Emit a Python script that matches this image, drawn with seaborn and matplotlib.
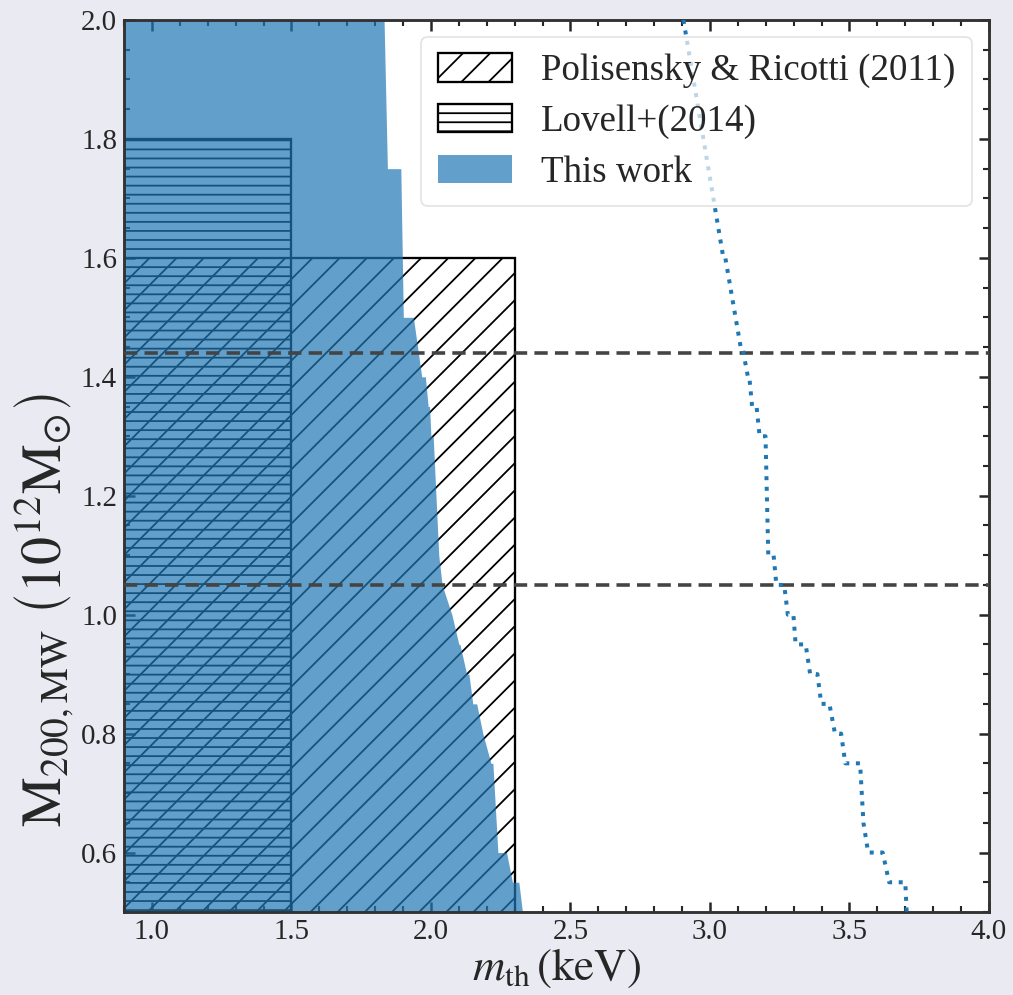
import matplotlib
matplotlib.use("Agg")
import matplotlib.pyplot as plt
from matplotlib.patches import Rectangle
from matplotlib.ticker import AutoMinorLocator, MultipleLocator
import seaborn as sns

# ---------------- data ----------------
# Polisensky & Ricotti (2011) excluded box
polisensky_m_max = 2.3
polisensky_M_max = 1.6
# Lovell+(2014) excluded box
lovell_m_max = 1.5
lovell_M_max = 1.8

# "This work" exclusion boundary (M200 in 1e12 Msun, m_th in keV)
edge_M = [2.00, 1.75, 1.75, 1.50, 1.50, 1.40, 1.40, 1.35, 1.35, 1.30, 1.30,
          1.10, 1.05, 1.00, 0.95, 0.95, 0.90, 0.90, 0.85, 0.85, 0.80, 0.75,
          0.75, 0.60, 0.60, 0.55, 0.55, 0.50]
edge_m = [1.832, 1.844, 1.892, 1.901, 1.937, 1.967, 1.980, 1.990, 1.995, 2.000, 2.008,
          2.028, 2.040, 2.075, 2.100, 2.104, 2.128, 2.136, 2.150, 2.164, 2.186, 2.215,
          2.222, 2.240, 2.271, 2.292, 2.315, 2.328]

# dotted curve
dot_M = [2.00, 1.60, 1.60, 1.45, 1.45, 1.40, 1.40, 1.35, 1.35, 1.30, 1.30, 1.10,
         1.10, 1.05, 1.05, 1.00, 1.00, 0.95, 0.95, 0.90, 0.90, 0.85, 0.85, 0.80,
         0.80, 0.75, 0.75, 0.65, 0.60, 0.60, 0.55, 0.55, 0.50]
dot_m = [2.905, 3.048, 3.055, 3.110, 3.116, 3.136, 3.141, 3.151, 3.167, 3.178, 3.199, 3.209,
         3.228, 3.238, 3.266, 3.279, 3.299, 3.307, 3.343, 3.359, 3.385, 3.399, 3.428, 3.448,
         3.470, 3.485, 3.538, 3.550, 3.567, 3.619, 3.642, 3.700, 3.705]

# horizontal reference masses
ref_M = [1.44, 1.05]

x_limits = (0.9, 4.0)
y_limits = (0.5, 2.0)

labels = ["Polisensky & Ricotti (2011)", "Lovell+(2014)", "This work"]

# ---------------- style ----------------
DPI = 163
def pt(px):
    """pixel size -> points at the chosen dpi"""
    return px * 72.0 / DPI

sns.set_theme(style="ticks")
plt.rcParams["font.family"] = ["Liberation Serif", "DejaVu Serif"]
plt.rcParams["mathtext.fontset"] = "stix"
plt.rcParams["hatch.linewidth"] = pt(1.8)
plt.rcParams["axes.edgecolor"] = "#333333"

fig = plt.figure(figsize=(1013 / DPI, 995 / DPI), dpi=DPI, facecolor="#eaeaf2")
ax = fig.add_axes([124 / 1013, 1 - 912 / 995, (989 - 124) / 1013, (912 - 20) / 995])
ax.set_facecolor("white")

p_poli = Rectangle((0.0, 0.0), polisensky_m_max, polisensky_M_max, fill=False,
                   hatch="//", edgecolor="black", lw=pt(2.3), label=labels[0], zorder=1)
p_lov = Rectangle((0.0, 0.0), lovell_m_max, lovell_M_max, fill=False,
                  hatch="---", edgecolor="black", lw=pt(2.3), label=labels[1], zorder=1)
ax.add_patch(p_poli)
ax.add_patch(p_lov)

p_this = ax.fill_betweenx(edge_M, 0.0, edge_m, color="#1f77b4", alpha=0.7,
                          lw=0, label=labels[2], zorder=2)

for lev in ref_M:
    ax.axhline(lev, color="#444444", lw=pt(3.6), ls=(0, (3.7, 2.0)), zorder=3)

sns.lineplot(x=dot_m, y=dot_M, sort=False, estimator=None, ax=ax,
             color="#1f77b4", lw=pt(4.0), linestyle=":", zorder=3)

ax.set_xlim(*x_limits)
ax.set_ylim(*y_limits)
ax.xaxis.set_major_locator(MultipleLocator(0.5))
ax.yaxis.set_major_locator(MultipleLocator(0.2))
ax.xaxis.set_minor_locator(AutoMinorLocator())
ax.yaxis.set_minor_locator(AutoMinorLocator())
ax.tick_params(which="both", direction="in", top=True, right=True,
               colors="#262626", labelsize=pt(29), pad=pt(7))
ax.tick_params(which="major", length=pt(10.5), width=pt(2.5))
ax.tick_params(which="minor", length=pt(5.5), width=pt(2.1))
for sp in ax.spines.values():
    sp.set_linewidth(pt(2.9))
    sp.set_color("#333333")

ax.set_xlabel(r"$m_{\rm th}\,\left(\rm keV\right)$", fontsize=pt(45), labelpad=pt(2))
ax.set_ylabel(r"$\mathrm{M}_{200,\mathrm{MW}}\ \left(10^{12}\mathrm{M}_{\odot}\right)$",
              fontsize=pt(56))
ax.yaxis.set_label_coords(-0.056, 0.338)

leg = ax.legend(handles=[p_poli, p_lov, p_this], loc="upper right", fontsize=pt(37),
                framealpha=0.7, handlelength=2.0, handleheight=0.8,
                labelspacing=0.42, handletextpad=0.8, borderpad=0.45,
                borderaxespad=0.45, fancybox=True, edgecolor="0.85")
leg.get_frame().set_linewidth(pt(1.8))
leg.set_zorder(5)

fig.savefig("out.png", dpi=DPI, facecolor=fig.get_facecolor())
